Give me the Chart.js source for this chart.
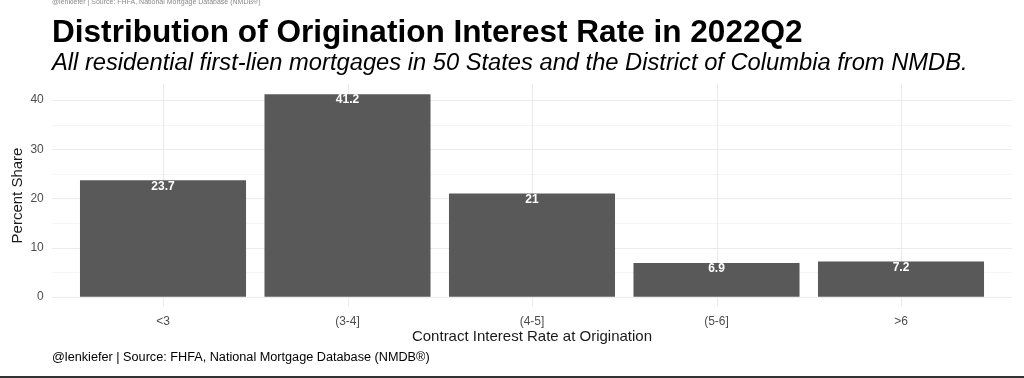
<!DOCTYPE html>
<html>
<head>
<meta charset="utf-8">
<script src="https://cdn.jsdelivr.net/npm/chart.js@4"></script>
<style>
  html, body { margin: 0; padding: 0; background: #ffffff; }
  #wrap { width: 1024px; height: 378px; position: relative; }
</style>
</head>
<body>
<div id="wrap"><canvas id="c" width="1024" height="378"></canvas></div>
<script>
const titleText = 'Distribution of Origination Interest Rate in 2022Q2';
const subtitleText = 'All residential first-lien mortgages in 50 States and the District of Columbia from NMDB.';
const captionText = '@lenkiefer | Source: FHFA, National Mortgage Database (NMDB®)';
const xTitle = 'Contract Interest Rate at Origination';
const yTitle = 'Percent Share';
const categories = ['<3', '(3-4]', '(4-5]', '(5-6]', '>6'];
const shares = [23.7, 41.2, 21, 6.9, 7.2];
const yMajorTicks = [0, 10, 20, 30, 40];
const yMinorTicks = [5, 15, 25, 35];

const FONT = '"Liberation Sans", Arial, Helvetica, sans-serif';

function fitFont(ctx, text, style, targetWidth) {
  ctx.font = style + ' 100px ' + FONT;
  const w = ctx.measureText(text).width;
  return 100 * targetWidth / w;
}

const gridPlugin = {
  id: 'ggGrid',
  beforeDatasetsDraw(chart) {
    const {ctx, chartArea, scales} = chart;
    const x = scales.x, y = scales.y;
    const step = (x.getPixelForValue(1) - x.getPixelForValue(0));
    const left = x.getPixelForValue(0) - 0.6 * step;
    const right = x.getPixelForValue(categories.length - 1) + 0.6 * step;
    const top = y.getPixelForValue(y.max);
    const bottom = y.getPixelForValue(y.min);
    ctx.save();
    ctx.strokeStyle = '#f2f2f2';
    ctx.lineWidth = 0.8;
    yMinorTicks.forEach(v => {
      const py = Math.round(y.getPixelForValue(v)) + 0.5;
      ctx.beginPath(); ctx.moveTo(left, py); ctx.lineTo(right, py); ctx.stroke();
    });
    ctx.strokeStyle = '#ebebeb';
    ctx.lineWidth = 1.1;
    yMajorTicks.forEach(v => {
      const py = Math.round(y.getPixelForValue(v)) + 0.5;
      ctx.beginPath(); ctx.moveTo(left, py); ctx.lineTo(right, py); ctx.stroke();
    });
    categories.forEach((c, i) => {
      const px = Math.round(x.getPixelForValue(i)) + 0.5;
      ctx.beginPath(); ctx.moveTo(px, top); ctx.lineTo(px, bottom); ctx.stroke();
    });
    ctx.restore();
  }
};

const labelPlugin = {
  id: 'barLabels',
  afterDatasetsDraw(chart) {
    const {ctx} = chart;
    const meta = chart.getDatasetMeta(0);
    ctx.save();
    ctx.fillStyle = '#ffffff';
    ctx.font = 'bold 12px ' + FONT;
    ctx.textAlign = 'center';
    ctx.textBaseline = 'middle';
    meta.data.forEach((bar, i) => {
      ctx.fillText(String(shares[i]), bar.x, bar.y + 6);
    });
    ctx.restore();
  }
};

const textPlugin = {
  id: 'ggText',
  afterDraw(chart) {
    const {ctx} = chart;
    ctx.save();
    ctx.textAlign = 'left';
    ctx.textBaseline = 'alphabetic';
    // faint top caption (cut off)
    ctx.fillStyle = '#8a8a8a';
    ctx.font = '7px ' + FONT;
    ctx.fillText(captionText, 52, 4);
    // title
    ctx.fillStyle = '#000000';
    let fs = fitFont(ctx, titleText, 'bold', 751);
    ctx.font = 'bold ' + fs + 'px ' + FONT;
    ctx.fillText(titleText, 52, 42);
    // subtitle
    fs = fitFont(ctx, subtitleText, 'italic', 916);
    ctx.font = 'italic ' + fs + 'px ' + FONT;
    ctx.fillStyle = '#000000';
    ctx.fillText(subtitleText, 52, 70);
    // caption
    fs = fitFont(ctx, captionText, 'normal', 378);
    ctx.font = fs + 'px ' + FONT;
    ctx.fillStyle = '#000000';
    ctx.textBaseline = 'middle';
    ctx.fillText(captionText, 52, 357);
    // bottom border line
    ctx.fillStyle = '#333333';
    ctx.fillRect(0, 376, 1024, 2);
    ctx.restore();
  }
};

new Chart(document.getElementById('c'), {
  type: 'bar',
  data: {
    labels: categories,
    datasets: [{
      data: shares,
      backgroundColor: '#595959',
      borderWidth: 0,
      barPercentage: 0.9,
      categoryPercentage: 1.0
    }]
  },
  options: {
    responsive: false,
    animation: false,
    devicePixelRatio: 1,
    layout: { padding: { top: 84, left: 0, right: 30.75, bottom: 26 } },
    plugins: { legend: { display: false }, tooltip: { enabled: false }, title: { display: false } },
    scales: {
      x: {
        offset: true,
        grid: { display: false, drawTicks: false },
        border: { display: false },
        ticks: { color: '#4d4d4d', font: { family: FONT, size: 12 }, padding: 7 },
        title: { display: true, text: xTitle, color: '#1a1a1a', font: { family: FONT, size: 15 }, padding: { top: 0, bottom: 6 } },
        afterFit(scale) { scale.height = 45; }
      },
      y: {
        min: -2.06,
        max: 43.26,
        grid: { display: false, drawTicks: false },
        border: { display: false },
        afterBuildTicks(scale) { scale.ticks = yMajorTicks.map(v => ({ value: v })); },
        ticks: { color: '#4d4d4d', font: { family: FONT, size: 12 }, padding: 27 },
        title: { display: true, text: yTitle, color: '#1a1a1a', font: { family: FONT, size: 15 }, padding: { top: 9, bottom: 0 } },
        afterFit(scale) { scale.width = 70.75; }
      }
    }
  },
  plugins: [gridPlugin, labelPlugin, textPlugin]
});
</script>
</body>
</html>
